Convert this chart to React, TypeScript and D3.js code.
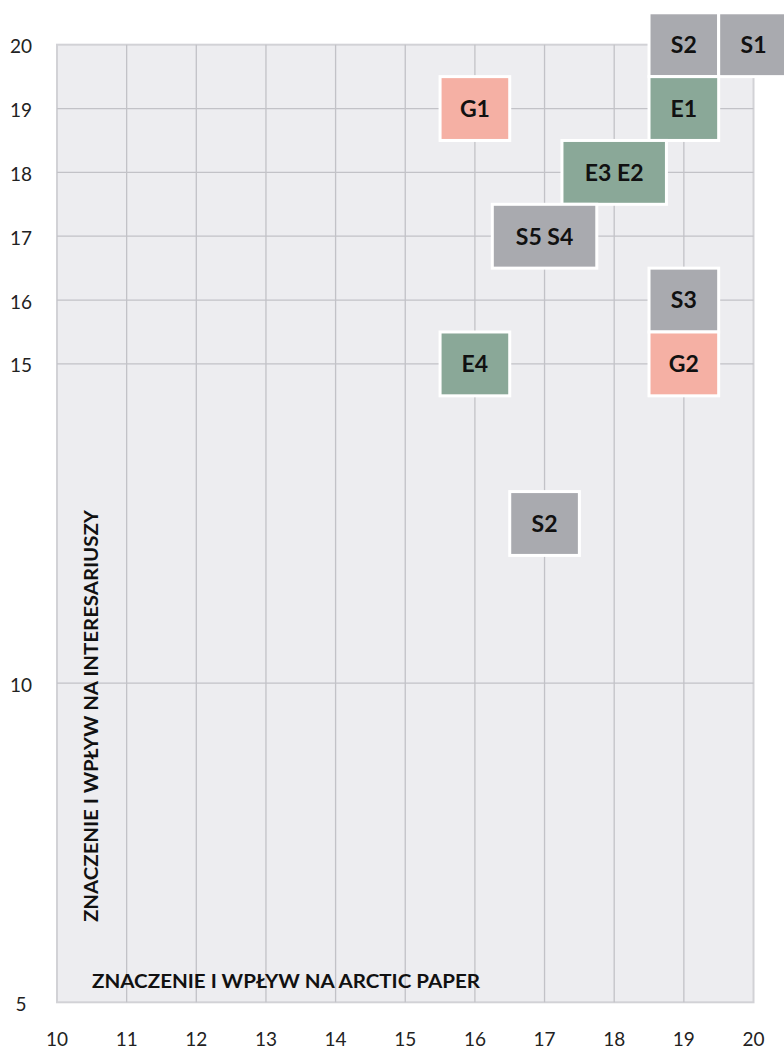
import React from "react";
import { scaleLinear, scaleOrdinal } from "d3";

// materiality matrix: x = importance for Arctic Paper, y = importance for stakeholders
const codes = ["S2", "S1", "E1", "G1", "E3 E2", "S5 S4", "S3", "G2", "E4", "S2"];
const xValues = [19, 20, 19, 16, 18, 17, 19, 19, 16, 17];
const yValues = [20, 20, 19, 19, 18, 17, 16, 15, 15, 12.5];
const groups = ["S", "S", "E", "G", "E", "S", "S", "G", "E", "S"];

const xTicks = [10, 11, 12, 13, 14, 15, 16, 17, 18, 19, 20];
const yTicks = [5, 10, 15, 16, 17, 18, 19, 20];

const xTitle = "ZNACZENIE I WPŁYW NA ARCTIC PAPER";
const yTitle = "ZNACZENIE I WPŁYW NA INTERESARIUSZY";

const W = 784;
const H = 1052;
const font = "Lato, 'Noto Sans', sans-serif";

export default function App() {
    const x = scaleLinear().domain([10, 20]).range([57, 753.5]);
    const y = scaleLinear().domain([5, 20]).range([1002.3, 44.7]);
    const color = scaleOrdinal<string, string>()
        .domain(["S", "E", "G"])
        .range(["#a9aaaf", "#8aa898", "#f5b0a4"]);

    const boxes = codes.map((code, i) => {
        // boxes holding two codes are half a unit wider
        const w = 1 + 0.5 * (code.split(" ").length - 1);
        return {
            code,
            x0: x(xValues[i] - w / 2),
            x1: x(xValues[i] + w / 2),
            y0: y(yValues[i] + 0.5),
            y1: y(yValues[i] - 0.5),
            cx: x(xValues[i]),
            cy: y(yValues[i]),
            fill: color(groups[i]),
        };
    });

    return (
        <div style={{ position: "absolute", left: 0, top: 0 }}>
            <svg width={W} height={H} style={{ display: "block" }}>
                <rect x={x(10)} y={y(20)} width={x(20) - x(10)} height={y(5) - y(20)}
                      fill="#ededf0" stroke="#d2d2d6" strokeWidth={2} />
                {xTicks.slice(1, -1).map(t => (
                    <line key={"gx" + t} x1={x(t)} x2={x(t)} y1={y(20)} y2={y(5)}
                          stroke="#c2c2c7" strokeWidth={1.3} />
                ))}
                {yTicks.slice(1, -1).map(t => (
                    <line key={"gy" + t} x1={x(10)} x2={x(20)} y1={y(t)} y2={y(t)}
                          stroke="#c2c2c7" strokeWidth={1.3} />
                ))}
                {xTicks.map(t => (
                    <text key={"tx" + t} x={x(t)} y={1046} textAnchor="middle"
                          fontFamily={font} fontSize={19} fill="#222">{t}</text>
                ))}
                {yTicks.map(t => (
                    <text key={"ty" + t} x={21} y={y(t) + 8.5} textAnchor="middle"
                          fontFamily={font} fontSize={19} fill="#222">{t}</text>
                ))}
                <text x={92} y={988} fontFamily={font} fontWeight={700} fontSize={18}
                      fill="#111" textLength={388} lengthAdjust="spacingAndGlyphs">{xTitle}</text>
                <text transform="translate(98,922) rotate(-90)" fontFamily={font} fontWeight={700}
                      fontSize={18} fill="#111" textLength={412}
                      lengthAdjust="spacingAndGlyphs">{yTitle}</text>
                {boxes.map((b, i) => (
                    <g key={i}>
                        <rect x={b.x0} y={b.y0} width={b.x1 - b.x0} height={b.y1 - b.y0}
                              fill={b.fill} stroke="#fff" strokeWidth={3} />
                        <text x={b.cx} y={b.cy} dy="0.36em" textAnchor="middle"
                              fontFamily={font} fontWeight={700} fontSize={23}
                              fill="#111">{b.code}</text>
                    </g>
                ))}
            </svg>
        </div>
    );
}
